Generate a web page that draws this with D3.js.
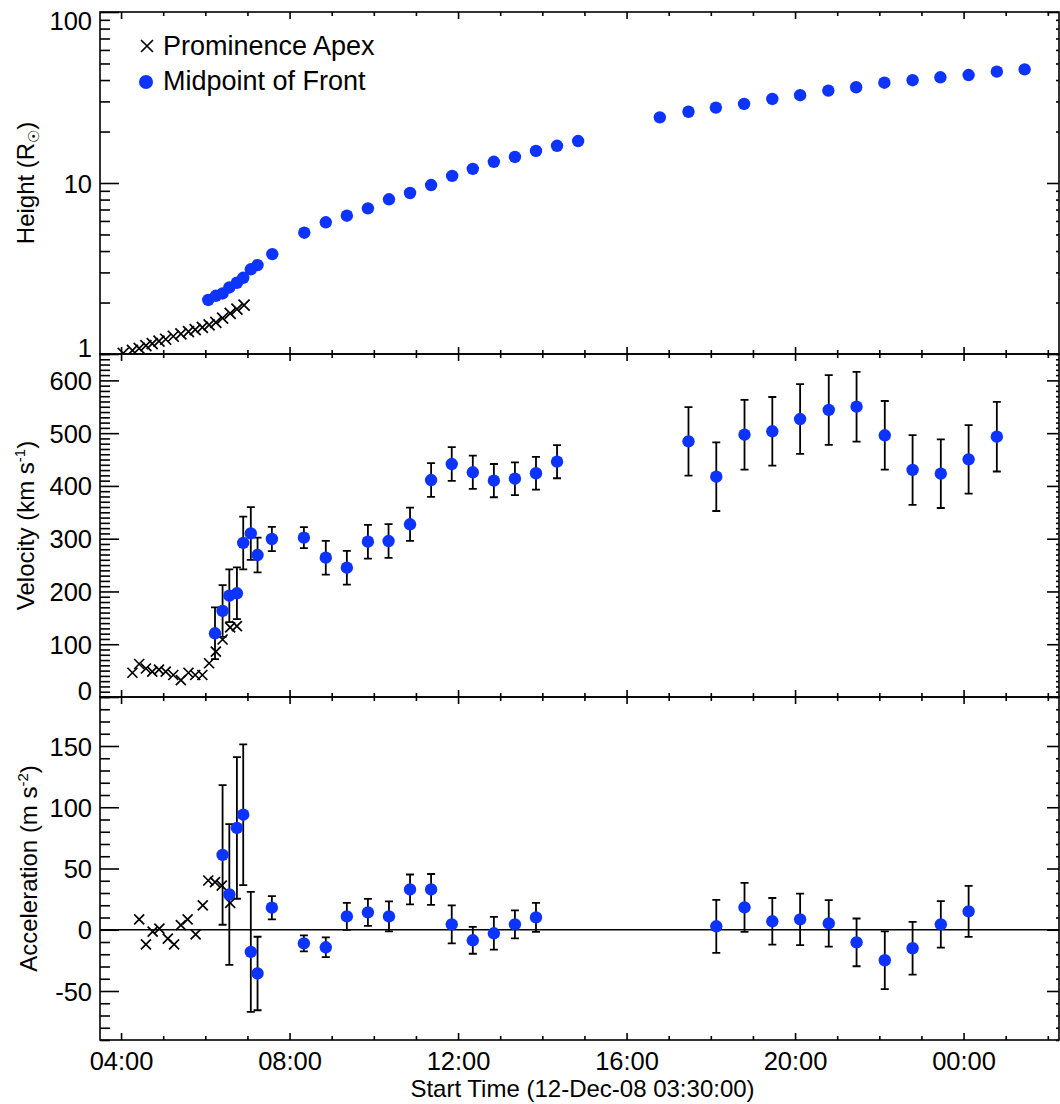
<!DOCTYPE html>
<html><head><meta charset="utf-8">
<script src="https://cdn.jsdelivr.net/npm/d3@7"></script>
<style>
body{margin:0;background:#fff}
svg{display:block}
text{font-family:"Liberation Sans",Arial,Helvetica,sans-serif;fill:#000}
</style>
</head><body>
<svg id="chart" width="1060" height="1104"></svg>
<script>
// ---------------- DATA (times in decimal hours since 12-Dec-08 00:00) ----------------
const apexTime   = [4.05,4.27,4.43,4.59,4.74,4.90,5.06,5.24,5.42,5.60,5.76,5.93,6.09,6.25,6.41,6.59,6.75,6.92];
const apexHeight = [1.01,1.05,1.08,1.12,1.15,1.19,1.22,1.27,1.31,1.35,1.39,1.43,1.48,1.53,1.62,1.73,1.83,1.93];

const frontTime   = [6.07,6.25,6.41,6.57,6.75,6.90,7.08,7.24,7.59,8.35,8.86,9.36,9.86,10.36,10.86,11.36,11.86,12.35,12.85,13.35,13.85,14.35,14.85,16.79,17.47,18.12,18.79,19.46,20.12,20.79,21.45,22.12,22.79,23.45,24.12,24.79,25.45];
const frontHeight = [2.07,2.19,2.26,2.45,2.61,2.79,3.13,3.31,3.84,5.12,5.89,6.44,7.11,8.03,8.74,9.73,11.0,12.1,13.3,14.2,15.4,16.5,17.6,24.2,26.1,27.6,29.0,31.0,32.6,34.7,36.3,38.6,39.9,41.5,42.8,44.8,46.2];

const apexVelTime = [4.27,4.43,4.59,4.74,4.90,5.06,5.24,5.42,5.60,5.76,5.93,6.09,6.25,6.41,6.59,6.75];
const apexVel     = [46,62.5,54,48,52,48,41.7,32,46,41.7,41.7,64,86,109,132,134.5];

const frontVelTime = [6.23,6.41,6.57,6.75,6.90,7.08,7.24,7.58,8.34,8.86,9.36,9.86,10.35,10.86,11.36,11.85,12.35,12.85,13.35,13.85,14.35,17.47,18.13,18.80,19.46,20.12,20.80,21.46,22.13,22.79,23.46,24.12,24.79];
const frontVel     = [120.7,163,192,196.5,292,310,269,299.4,302,264,245,294.3,295.6,327.3,411.2,441.5,425.8,410,413.7,424,446,484.5,417.5,497,503.5,526.8,543.9,550.1,495.9,430.2,423.2,450.4,493.3];
const frontVelErr  = [49,49,50,49,50,50,33,23,20,32,32,32,32,31.5,32,32,31.5,31.5,31,31,31.5,65,65,66,65,66,66,66,65,66,65,65,66];

const apexAccTime = [4.43,4.59,4.75,4.91,5.11,5.26,5.42,5.58,5.77,5.94,6.07,6.23,6.39,6.59];
const apexAcc     = [8.5,-11.9,-1.6,0.9,-7.3,-11.9,3.8,8.5,-3.7,19.9,40.2,38.8,36.1,22.0];

const frontAccTime = [6.41,6.57,6.75,6.90,7.08,7.24,7.58,8.34,8.86,9.36,9.86,10.36,10.86,11.36,11.85,12.35,12.85,13.35,13.85,18.13,18.80,19.46,20.12,20.80,21.46,22.13,22.79,23.46,24.12];
const frontAcc     = [61.1,28.8,83.1,93.9,-18.1,-35.7,18,-11.1,-14.3,10.9,14.2,10.9,32.9,32.9,4.4,-8.6,-2.9,4.4,10.1,2.8,18.2,6.9,8.5,5.2,-10.3,-24.9,-15.1,4.4,15];
const frontAccErr  = [57,57.5,57.8,57.5,49,30,9.5,6.5,8.1,11,11,12.2,12.2,12.6,15.5,11,13.4,11.4,11.8,21.6,20,19,21,19,19.5,23.6,21.6,19,20.8];

const xTickHours  = [4,8,12,16,20,24];
const xTickLabels = ["04:00","08:00","12:00","16:00","20:00","00:00"];
const hTickVals   = [1,10,100];
const hTickLabels = ["1","10","100"];
const vTickVals   = [0,100,200,300,400,500,600];
const vTickLabels = ["0","100","200","300","400","500","600"];
const aTickVals   = [-50,0,50,100,150];
const aTickLabels = ["-50","0","50","100","150"];
const legendLabels = ["Prominence Apex","Midpoint of Front"];
const xTitle = "Start Time (12-Dec-08 03:30:00)";

// ---------------- LAYOUT ----------------
const L = 100, R = 1059;
const FS = 24;      // axis titles
const TFS = 25.5;   // tick labels & legend
const BLUE = "#0d33ff";
const panels = {
  h: {top: 12,  bottom: 354},
  v: {top: 354, bottom: 697},
  a: {top: 697, bottom: 1040}
};

const svg = d3.select("#chart");
const x = d3.scaleLinear().domain([3.5, 3.5 + (R - L) / 42.125]).range([L, R]);
const yH = d3.scaleLog().domain([1, 100]).range([panels.h.bottom, panels.h.top]);
const yV = d3.scaleLinear().domain([0, 650]).range([panels.v.bottom, panels.v.top]);
const yA = d3.scaleLinear().domain([-90, 190]).range([panels.a.bottom, panels.a.top]);

const minorHours = d3.range(4, 27, 1).filter(h => h % 4 !== 0);

function styleAxis(g) {
  g.select(".domain").remove();
  g.selectAll("line").attr("stroke", "#000").attr("stroke-width", 1.6);
  g.selectAll("text").attr("font-size", TFS).attr("font-family", '"Liberation Sans",Arial,Helvetica,sans-serif').attr("fill", "#000");
  g.attr("font-size", null).attr("font-family", null);
  return g;
}

function drawPanel(key, yScale, majVals, majLabels, minVals, showXLabels) {
  const p = panels[key];
  const g = svg.append("g");
  svg.append("clipPath").attr("id", "clip-" + key).append("rect")
    .attr("x", L).attr("y", p.top).attr("width", R - L).attr("height", p.bottom - p.top);

  const lm = styleAxis(g.append("g").attr("transform", `translate(${L},0)`)
    .call(d3.axisLeft(yScale).tickValues(majVals).tickFormat((d, i) => majLabels[i])
      .tickSizeInner(-19).tickSizeOuter(0).tickPadding(8)));
  lm.selectAll("text").attr("dy", null).attr("dominant-baseline", "central")
    .attr("y", function(d) {
      const yy = yScale(d);
      let off = 0;
      if (yy - p.top < 9) off = p.top + 8 - yy;
      if (p.bottom - yy < 9) off = p.bottom - 7 - yy;
      return off;
    });
  styleAxis(g.append("g").attr("transform", `translate(${L},0)`)
    .call(d3.axisLeft(yScale).tickValues(minVals).tickFormat("").tickSizeInner(-10).tickSizeOuter(0)));
  styleAxis(g.append("g").attr("transform", `translate(${R},0)`)
    .call(d3.axisRight(yScale).tickValues(majVals).tickFormat("").tickSizeInner(-12).tickSizeOuter(0)));
  styleAxis(g.append("g").attr("transform", `translate(${R},0)`)
    .call(d3.axisRight(yScale).tickValues(minVals).tickFormat("").tickSizeInner(-3).tickSizeOuter(0)));

  const bx = styleAxis(g.append("g").attr("transform", `translate(0,${p.bottom})`)
    .call(d3.axisBottom(x).tickValues(xTickHours).tickFormat((d, i) => showXLabels ? xTickLabels[i] : "")
      .tickSizeInner(-7).tickSizeOuter(0).tickPadding(0)));
  bx.selectAll("text").attr("dy", null).attr("y", 30);
  styleAxis(g.append("g").attr("transform", `translate(0,${p.bottom})`)
    .call(d3.axisBottom(x).tickValues(minorHours).tickFormat("").tickSizeInner(-4).tickSizeOuter(0)));
  styleAxis(g.append("g").attr("transform", `translate(0,${p.top})`)
    .call(d3.axisTop(x).tickValues(xTickHours).tickFormat("").tickSizeInner(-7).tickSizeOuter(0)));
  styleAxis(g.append("g").attr("transform", `translate(0,${p.top})`)
    .call(d3.axisTop(x).tickValues(minorHours).tickFormat("").tickSizeInner(-4).tickSizeOuter(0)));

  g.append("rect").attr("x", L).attr("y", p.top).attr("width", R - L).attr("height", p.bottom - p.top)
    .attr("fill", "none").attr("stroke", "#000").attr("stroke-width", 1.6);

  return svg.append("g").attr("clip-path", `url(#clip-${key})`);
}

function crosses(g, xs, ys, yScale, s = 5) {
  g.selectAll(null).data(xs.map((t, i) => [t, ys[i]])).enter().append("path")
    .attr("d", d => {
      const cx = x(d[0]), cy = yScale(d[1]);
      return `M${cx - s},${cy - s}L${cx + s},${cy + s}M${cx - s},${cy + s}L${cx + s},${cy - s}`;
    })
    .attr("stroke", "#000").attr("stroke-width", 1.7).attr("fill", "none");
}
function dots(g, xs, ys, yScale, r = 6) {
  g.selectAll(null).data(xs.map((t, i) => [t, ys[i]])).enter().append("circle")
    .attr("cx", d => x(d[0])).attr("cy", d => yScale(d[1])).attr("r", r).attr("fill", BLUE);
}
function errbars(g, xs, ys, es, yScale, cw = 4) {
  const data = xs.map((t, i) => [t, ys[i], es[i]]);
  g.selectAll(null).data(data).enter().append("path").attr("d", d => {
    const cx = x(d[0]), y1 = yScale(d[1] + d[2]), y2 = yScale(d[1] - d[2]);
    return `M${cx},${y1}L${cx},${y2}M${cx - cw},${y1}L${cx + cw},${y1}M${cx - cw},${y2}L${cx + cw},${y2}`;
  }).attr("stroke", "#000").attr("stroke-width", 1.8).attr("fill", "none");
}

// ---------------- HEIGHT PANEL ----------------
const hMinor = [];
[1, 10].forEach(b => { for (let k = 2; k <= 9; k++) hMinor.push(b * k); });
const gH = drawPanel("h", yH, hTickVals, hTickLabels, hMinor, false);
crosses(gH, apexTime, apexHeight, yH, 5.5);
dots(gH, frontTime, frontHeight, yH, 6.2);

// legend
const lg = svg.append("g");
lg.append("path").attr("d", "M141,40L153,52M141,52L153,40").attr("stroke", "#000").attr("stroke-width", 1.7);
lg.append("text").attr("x", 163).attr("y", 55).attr("font-size", 27).text(legendLabels[0]);
lg.append("circle").attr("cx", 146).attr("cy", 82).attr("r", 7).attr("fill", BLUE);
lg.append("text").attr("x", 163).attr("y", 90).attr("font-size", 27).text(legendLabels[1]);

// ---------------- VELOCITY PANEL ----------------
const gV = drawPanel("v", yV, vTickVals, vTickLabels, d3.range(0, 651, 10).filter(v => v % 100 !== 0), false);
crosses(gV, apexVelTime, apexVel, yV, 5);
errbars(gV, frontVelTime, frontVel, frontVelErr, yV);
dots(gV, frontVelTime, frontVel, yV, 6.2);

// ---------------- ACCELERATION PANEL ----------------
const gA = drawPanel("a", yA, aTickVals, aTickLabels, d3.range(-90, 191, 10).filter(v => v % 50 !== 0), true);
gA.append("line").attr("x1", L).attr("x2", R).attr("y1", yA(0)).attr("y2", yA(0))
  .attr("stroke", "#000").attr("stroke-width", 1.6);
crosses(gA, apexAccTime, apexAcc, yA, 5);
errbars(gA, frontAccTime, frontAcc, frontAccErr, yA);
dots(gA, frontAccTime, frontAcc, yA, 6.2);

// ---------------- TITLES ----------------
svg.append("text").attr("x", (L + R) / 2 + 3).attr("y", 1097).attr("text-anchor", "middle")
  .attr("font-size", FS).text(xTitle);

function yTitle(cx, cy, parts) {
  const t = svg.append("text").attr("transform", `translate(${cx},${cy}) rotate(-90)`)
    .attr("text-anchor", "middle").attr("font-size", FS);
  parts.forEach(pt => {
    const ts = t.append("tspan").text(pt.t);
    if (pt.fs) ts.attr("font-size", pt.fs);
    if (pt.dy) ts.attr("dy", pt.dy);
  });
}
yTitle(34, (panels.h.top + panels.h.bottom) / 2, [
  {t: "Height (R"}, {t: "\u2609", fs: 15, dy: 5}, {t: ")", dy: -5}
]);
yTitle(34, (panels.v.top + panels.v.bottom) / 2, [
  {t: "Velocity (km s"}, {t: "-1", fs: 15, dy: -9}, {t: ")", dy: 9}
]);
yTitle(37, (panels.a.top + panels.a.bottom) / 2, [
  {t: "Acceleration (m s"}, {t: "-2", fs: 15, dy: -9}, {t: ")", dy: 9}
]);
</script>
</body></html>
